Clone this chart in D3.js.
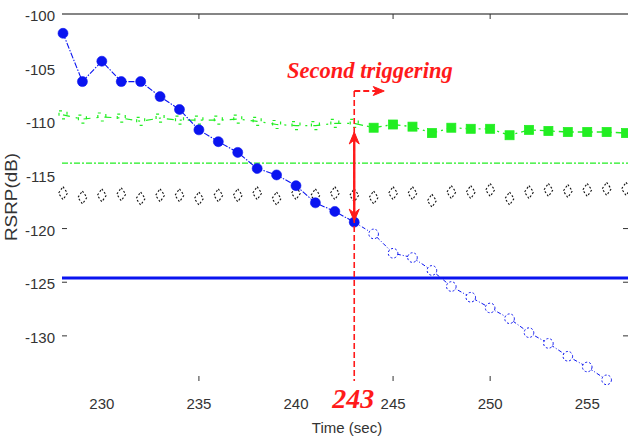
<!DOCTYPE html>
<html>
<head>
<meta charset="utf-8">
<script src="https://cdn.jsdelivr.net/npm/d3@7"></script>
<style>
  html, body { margin: 0; padding: 0; background: #fff; }
  svg { display: block; }
</style>
</head>
<body>
<svg id="chart" width="628" height="440"></svg>
<script>
// Time axis (seconds)
const times = d3.range(228, 258);           // 228 .. 257
const servingTimes = d3.range(228, 257);    // 228 .. 256

// Serving cell RSRP (dB): measured up to the trigger, projected afterwards
const servingRSRP = [
  -101.8, -106.3, -104.4, -106.3, -106.3, -107.7, -108.9, -110.8,
  -111.9, -112.9, -114.4, -115.0, -116.0, -117.6, -118.4, -119.4,
  -120.5, -122.3, -122.7, -123.9, -125.4, -126.4, -127.4, -128.4,
  -129.7, -130.7, -131.9, -132.9, -134.1
];

// Neighbour cell A (green squares)
const neighbourA = [
  -109.4, -109.8, -109.6, -109.7, -110.0, -109.7, -109.9, -109.9,
  -109.9, -109.8, -110.0, -110.3, -110.4, -110.4, -110.2, -110.2,
  -110.6, -110.3, -110.5, -111.1, -110.6, -110.7, -110.7, -111.3,
  -110.8, -110.9, -111.0, -111.0, -111.0, -111.1
];

// Neighbour cell B (black diamonds)
const neighbourB = [
  -116.7, -117.1, -116.9, -116.8, -117.2, -116.9, -116.9, -117.2,
  -116.9, -116.9, -116.7, -117.2, -116.7, -116.9, -116.7, -116.9,
  -117.1, -116.7, -116.7, -117.4, -116.6, -116.6, -116.4, -117.2,
  -116.6, -116.4, -116.5, -116.4, -116.3, -116.3
];

// Threshold levels (dB)
const neighbourThreshold = -113.9;
const servingThreshold = -124.6;

// Trigger instant
const triggerTime = 243;

// Axis ticks
const xTicks = [230, 235, 240, 245, 250, 255];
const yTicks = [-100, -105, -110, -115, -120, -125, -130];
const xTickMarks = [235, 245, 250];
const yTickMarks = [-120, -125, -130];

const svg = d3.select("#chart");
const x = d3.scaleLinear().domain([228, 257.1]).range([63, 628]);
const y = d3.scaleLinear().domain([-100, -134.3]).range([14, 382]);

const red = "#ff1a1a";
const green = "#22ee22";
const blue = "#0a14f0";

// Frame: top border and tick marks
svg.append("line")
  .attr("x1", 62).attr("x2", 628).attr("y1", y(-100)).attr("y2", y(-100))
  .attr("stroke", "#5c5c5c").attr("stroke-width", 1.6);

const tickG = svg.append("g").attr("stroke", "#333").attr("stroke-width", 1);
xTickMarks.forEach(t => {
  tickG.append("line").attr("x1", x(t)).attr("x2", x(t)).attr("y1", y(-100)).attr("y2", y(-100) + 5);
  tickG.append("line").attr("x1", x(t)).attr("x2", x(t)).attr("y1", 381).attr("y2", 376);
});
yTickMarks.forEach(v => {
  tickG.append("line").attr("x1", 62).attr("x2", 67).attr("y1", y(v)).attr("y2", y(v));
  tickG.append("line").attr("x1", 628).attr("x2", 623).attr("y1", y(v)).attr("y2", y(v));
});

// Tick labels
const labelFont = "'Liberation Sans', Arial, sans-serif";
svg.append("g").selectAll("text").data(yTicks).join("text")
  .attr("x", 55).attr("y", d => y(d) + 1.5)
  .attr("text-anchor", "end").attr("dominant-baseline", "central")
  .attr("font-family", labelFont).attr("font-size", 15).attr("fill", "#333")
  .text(d => d);
svg.append("g").selectAll("text").data(xTicks).join("text")
  .attr("x", d => x(d)).attr("y", 409)
  .attr("text-anchor", "middle")
  .attr("font-family", labelFont).attr("font-size", 15).attr("fill", "#333")
  .text(d => d);

// Axis titles
svg.append("text")
  .attr("x", 347).attr("y", 433).attr("text-anchor", "middle")
  .attr("font-family", labelFont).attr("font-size", 15).attr("fill", "#333")
  .text("Time (sec)");
svg.append("text")
  .attr("transform", "translate(17,197) rotate(-90)")
  .attr("text-anchor", "middle")
  .attr("font-family", labelFont).attr("font-size", 16.5).attr("fill", "#333")
  .attr("textLength", 88).attr("lengthAdjust", "spacingAndGlyphs")
  .text("RSRP(dB)");

// Threshold lines
svg.append("line")
  .attr("x1", 62).attr("x2", 628)
  .attr("y1", y(neighbourThreshold)).attr("y2", y(neighbourThreshold))
  .attr("stroke", green).attr("stroke-width", 1.4).attr("stroke-dasharray", "6,2,2,2");
svg.append("line")
  .attr("x1", 62).attr("x2", 628)
  .attr("y1", y(servingThreshold)).attr("y2", y(servingThreshold))
  .attr("stroke", blue).attr("stroke-width", 3);

// Neighbour B: dotted diamonds
const diamond = "M0,-6.5 L4.5,0 L0,6.5 L-4.5,0 Z";
svg.append("g").selectAll("path").data(times).join("path")
  .attr("transform", (t, i) => `translate(${x(t)},${y(neighbourB[i])})`)
  .attr("d", diamond)
  .attr("fill", "none").attr("stroke", "#111").attr("stroke-width", 1.1)
  .attr("stroke-dasharray", "2,2");

// Neighbour A: line, then open squares before the trigger and filled ones after
const aPts = times.map((t, i) => ({ t, v: neighbourA[i] }));
const lineA = d3.line().x(d => x(d.t)).y(d => y(d.v));
svg.append("path").datum(aPts.filter(d => d.t <= triggerTime))
  .attr("d", lineA).attr("fill", "none")
  .attr("stroke", green).attr("stroke-width", 1.2).attr("stroke-dasharray", "7,6,2,6");
svg.append("path").datum(aPts.filter(d => d.t >= triggerTime))
  .attr("d", lineA).attr("fill", "none")
  .attr("stroke", green).attr("stroke-width", 1.3).attr("stroke-dasharray", "9,4,2,4");
svg.append("g").selectAll("rect").data(aPts.filter(d => d.t <= triggerTime)).join("rect")
  .attr("x", d => x(d.t) - 4).attr("y", d => y(d.v) - 4)
  .attr("width", 8).attr("height", 8)
  .attr("fill", "none").attr("stroke", green).attr("stroke-width", 1.2)
  .attr("stroke-dasharray", "3,6");
svg.append("g").selectAll("rect").data(aPts.filter(d => d.t > triggerTime)).join("rect")
  .attr("x", d => x(d.t) - 4.5).attr("y", d => y(d.v) - 4.5)
  .attr("width", 9).attr("height", 9)
  .attr("fill", green).attr("stroke", green).attr("stroke-width", 0.8);

// Serving cell: measured part (filled) and projected part (dashed open circles)
const sPts = servingTimes.map((t, i) => ({ t, v: servingRSRP[i] }));
const lineS = d3.line().x(d => x(d.t)).y(d => y(d.v));
svg.append("path").datum(sPts.filter(d => d.t <= triggerTime))
  .attr("d", lineS).attr("fill", "none")
  .attr("stroke", blue).attr("stroke-width", 1.1).attr("stroke-dasharray", "6,1.5,1.5,1.5");
svg.append("path").datum(sPts.filter(d => d.t >= triggerTime))
  .attr("d", lineS).attr("fill", "none")
  .attr("stroke", blue).attr("stroke-width", 1).attr("stroke-dasharray", "4,2,1,2");
svg.append("g").selectAll("circle").data(sPts.filter(d => d.t > triggerTime)).join("circle")
  .attr("cx", d => x(d.t)).attr("cy", d => y(d.v)).attr("r", 4.8)
  .attr("fill", "#fff").attr("stroke", blue).attr("stroke-width", 1)
  .attr("stroke-dasharray", "2,2");
svg.append("g").selectAll("circle").data(sPts.filter(d => d.t <= triggerTime)).join("circle")
  .attr("cx", d => x(d.t)).attr("cy", d => y(d.v)).attr("r", 5)
  .attr("fill", blue).attr("stroke", blue).attr("stroke-width", 0.6);

// Trigger annotation
const xt = x(triggerTime);
const servingAtTrigger = servingRSRP[servingTimes.indexOf(triggerTime)];
const yTop = 91;
svg.append("line")
  .attr("x1", xt).attr("x2", xt).attr("y1", yTop).attr("y2", 381)
  .attr("stroke", red).attr("stroke-width", 1.6).attr("stroke-dasharray", "6,3");
svg.append("line")
  .attr("x1", xt).attr("x2", xt + 22).attr("y1", yTop).attr("y2", yTop)
  .attr("stroke", red).attr("stroke-width", 1.8).attr("stroke-dasharray", "6,3");
svg.append("path")
  .attr("d", `M${xt + 30},${yTop} L${xt + 19},${yTop - 4.5} L${xt + 22},${yTop} L${xt + 19},${yTop + 4.5} Z`)
  .attr("fill", red).attr("stroke", red).attr("stroke-width", 1);

// Double-headed arrow between neighbour level and serving level
const a1 = 132, a2 = y(servingAtTrigger) - 1;
svg.append("line")
  .attr("x1", xt).attr("x2", xt).attr("y1", a1 + 2).attr("y2", a2 - 2)
  .attr("stroke", red).attr("stroke-width", 2.4);
svg.append("path")
  .attr("d", `M${xt - 5},${a1 + 12} L${xt},${a1} L${xt + 5},${a1 + 12} L${xt},${a1 + 8} Z`)
  .attr("fill", red).attr("stroke", red).attr("stroke-width", 1);
svg.append("path")
  .attr("d", `M${xt - 5},${a2 - 12} L${xt},${a2} L${xt + 5},${a2 - 12} L${xt},${a2 - 8} Z`)
  .attr("fill", red).attr("stroke", red).attr("stroke-width", 1);

svg.append("text")
  .attr("x", 287).attr("y", 78)
  .attr("font-family", "'Liberation Serif', 'Times New Roman', serif")
  .attr("font-weight", "bold").attr("font-style", "italic")
  .attr("font-size", 22.5).attr("fill", red)
  .text("Second triggering");

svg.append("text")
  .attr("x", xt - 1).attr("y", 408).attr("text-anchor", "middle")
  .attr("font-family", "'Liberation Serif', 'Times New Roman', serif")
  .attr("font-weight", "bold").attr("font-style", "italic")
  .attr("font-size", 28).attr("fill", red)
  .text(triggerTime);
</script>
</body>
</html>
